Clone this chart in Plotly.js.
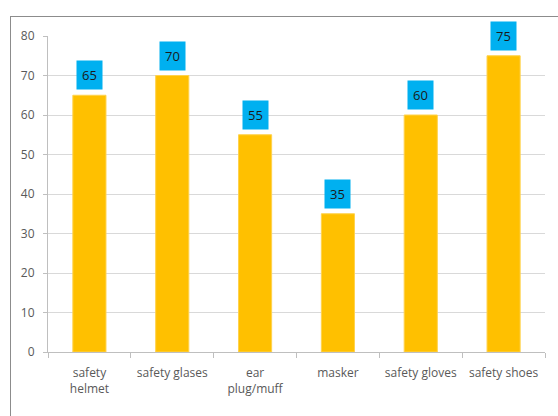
<!DOCTYPE html>
<html><head><meta charset="utf-8">
<script src="https://cdn.plot.ly/plotly-3.0.1.min.js"></script>
<style>
body{margin:0;padding:0;background:#fff;}
#wrap{position:relative;width:558px;height:416px;}
#frame{position:absolute;left:10px;top:16px;width:600px;height:500px;border:1px solid #8c8c8c;box-sizing:border-box;pointer-events:none;}
#chart{position:absolute;left:0;top:0;width:558px;height:416px;}
</style></head>
<body><div id="wrap"><div id="chart"></div><div id="frame"></div></div>
<script>
const categories = ["safety<br>helmet", "safety glases", "ear<br>plug/muff", "masker", "safety gloves", "safety shoes"];
const values = [65, 70, 55, 35, 60, 75];
const yTicks = [0, 10, 20, 30, 40, 50, 60, 70, 80];

const font = {family: "Open Sans, Roboto, sans-serif", size: 12, color: "#595959"};

const trace = {
  type: "bar", x: categories, y: values,
  marker: {color: "#FFC000", line: {color: "#FFD24D", width: 1}},
  hoverinfo: "none"
};

const annotations = categories.map((c, i) => ({
  x: c, y: values[i], xref: "x", yref: "y",
  text: String(values[i]), showarrow: false,
  yanchor: "bottom", yshift: 5,
  bgcolor: "#00B0F0", borderpad: 5,
  font: {family: font.family, size: 13, color: "#1a1a1a"}
}));

const layout = {
  width: 558, height: 416,
  margin: {l: 48, r: 13, t: 36, b: 64},
  paper_bgcolor: "#fff", plot_bgcolor: "#fff",
  showlegend: false, bargap: 0.6,
  font: font,
  xaxis: {type: "category", tickson: "boundaries", ticks: "outside", ticklen: 5, tickcolor: "#bfbfbf",
          showline: true, linecolor: "#bfbfbf", showgrid: false, tickfont: font, automargin: false,
          ticklabelstandoff: 10},
  yaxis: {range: [0, 80], tickmode: "array", tickvals: yTicks, ticks: "outside", ticklen: 4, tickcolor: "#bfbfbf",
          showline: true, linecolor: "#bfbfbf", gridcolor: "#d9d9d9", zeroline: false, tickfont: font, automargin: false,
          ticklabelstandoff: 6},
  annotations: annotations
};
Plotly.newPlot("chart", [trace], layout, {displayModeBar: false, staticPlot: true});
</script></body></html>
